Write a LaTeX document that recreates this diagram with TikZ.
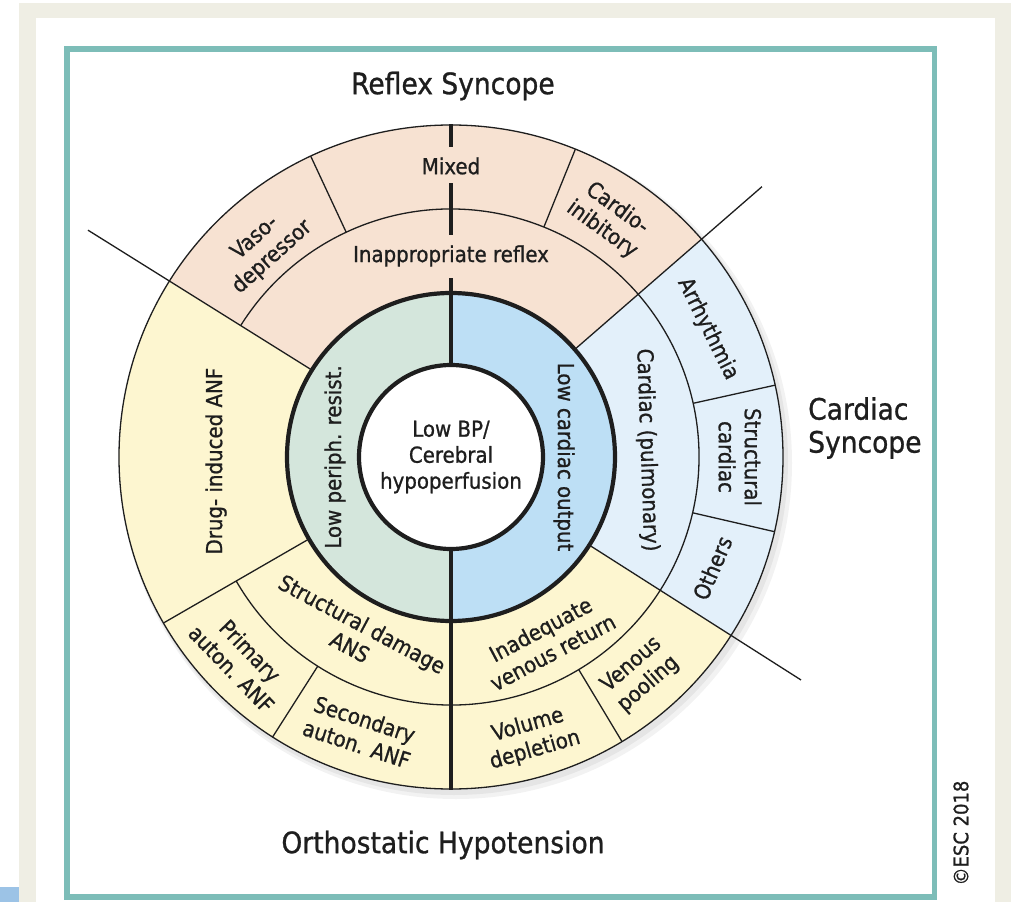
\documentclass[tikz,border=0pt]{standalone}
\usepackage{fontspec}
\setmainfont{DejaVu Sans Condensed}[BoldFont=DejaVu Sans Condensed, BoldFeatures={FakeBold=0.9}]
\usepackage{tikz}
\usepackage{xcolor}

\definecolor{bgbeige}{HTML}{EFEEE4}
\definecolor{framec}{HTML}{7DBDB8}
\definecolor{cornerblue}{HTML}{9CC3E6}
\definecolor{reflexfill}{HTML}{F7E2D2}
\definecolor{cardfill}{HTML}{E3F0FA}
\definecolor{orthofill}{HTML}{FDF6D0}
\definecolor{periphfill}{HTML}{D4E6DC}
\definecolor{outputfill}{HTML}{BDDFF5}
\definecolor{lnc}{HTML}{1E1E1E}

\newcommand{\ringpart}[5]{%
  \fill[#1] (#4:#2) arc[start angle=#4, end angle=#5, radius=#2pt]
    -- (#5:#3) arc[start angle=#5, end angle=#4, radius=#3pt] -- cycle;}

\begin{document}
\begin{tikzpicture}[
  x=1pt, y=1pt,
  lbl/.style={font=\fontsize{22}{26}\selectfont\bfseries, align=center, inner sep=0pt, text=lnc},
  ttl/.style={font=\fontsize{29.5}{33}\selectfont\bfseries, align=left, inner sep=0pt, text=lnc},
  thinln/.style={draw=lnc, line width=1.3pt},
  thickln/.style={draw=lnc, line width=4.2pt},
]
  \useasboundingbox (-451,-445) rectangle (560,457);
  % page and frame
  \fill[white] (-451,-445) rectangle (560,457);
  \fill[bgbeige] (-432,-445) rectangle (560,454);
  \fill[white] (-415,-445) rectangle (544,439);
  \fill[cornerblue] (-451,-445) rectangle (-432,-430);
  \draw[framec, line width=5.5pt] (-384,-440) rectangle (483.5,408);

  % soft shadow
  \fill[black, opacity=0.05] (5,-6) circle[radius=336pt];
  \fill[black, opacity=0.05] (3,-4) circle[radius=334pt];

  % outer sectors
  \ringpart{reflexfill}{332}{164}{41}{148}
  \ringpart{cardfill}{332}{164}{-32.5}{41}
  \ringpart{orthofill}{332}{164}{148}{327.5}
  % mechanism ring
  \ringpart{periphfill}{164}{92}{90}{270}
  \ringpart{outputfill}{164}{92}{-90}{90}
  \fill[white] (0,0) circle[radius=92pt];

  % thin borders
  \draw[thinln] (0,0) circle[radius=332pt];
  \draw[thinln] (-150:248) arc[start angle=-150, end angle=148, radius=248pt];
  \draw[thinln] (148:164) -- (148:428);
  \draw[thinln] (41:164) -- (41:412);
  \draw[thinln] (-32.5:164) -- (-32.5:415);
  \draw[thinln] (210:164) -- (210:332);
  \foreach \a in {115, 68, 12.5, -13, 237.5, -59}
    \draw[thinln] (\a:248) -- (\a:332);

  % thick borders
  \draw[thickln] (0,0) circle[radius=164pt];
  \draw[thickln] (0,0) circle[radius=92pt];
  \draw[thickln] (90:92) -- (90:179);
  \draw[thickln] (90:222) -- (90:274);
  \draw[thickln] (90:310) -- (90:333);
  \draw[thickln] (-90:92) -- (-90:333);

  % labels
  \node[lbl] (center) at (0,0) {\fontsize{22}{27}\selectfont Low BP/\\Cerebral\\hypoperfusion};
  \node[lbl, rotate=90] (periph) at (180:116) {Low periph. resist.};
  \node[lbl, rotate=-90] (output) at (0:113) {Low cardiac output};

  \node[lbl] (mixed) at (90:291) {Mixed};
  \node[lbl] (inappr) at (90:201) {Inappropriate reflex};
  \node[lbl, rotate=41.8] (vaso) at (131.8:281) {Vaso-\\depressor};
  \node[lbl, rotate=-36] (cardio) at (56.3:286) {Cardio-\\inibitory};

  \node[lbl, rotate=-63.5] (arrhy) at (26.5:287) {Arrhythmia};
  \node[lbl, rotate=-90] (struct) at (0:289) {Structural\\cardiac};
  \node[lbl, rotate=67] (others) at (-23:284) {Others};
  \node[lbl, rotate=-88] (pulm) at (2:196) {Cardiac (pulmonary)};

  \node[lbl, rotate=41] (pooling) at (-49:288) {Venous\\pooling};
  \node[lbl, rotate=16] (volume) at (-74:292) {Volume\\depletion};
  \node[lbl, rotate=28] (inadeq) at (-62.5:207) {Inadequate\\venous return};
  \node[lbl, rotate=-28] (ans) at (242:202) {Structural damage\\ANS};
  \node[lbl, rotate=-46] (primary) at (224:292) {Primary\\auton. ANF};
  \node[lbl, rotate=-18] (second) at (251.8:289) {Secondary\\auton. ANF};
  \node[lbl, rotate=90] (drug) at (181:235) {Drug- induced ANF};

  \node[ttl] (reflex) at (2,371) {Reflex Syncope};
  \node[ttl, anchor=west] (cardsyn) at (357,29) {Cardiac\\Syncope};
  \node[ttl] (ortho) at (-8,-388) {Orthostatic Hypotension};
  \node[lbl, rotate=90, font=\fontsize{20}{22}\selectfont\bfseries] (esc) at (510,-376) {©ESC 2018};
\end{tikzpicture}
\end{document}
